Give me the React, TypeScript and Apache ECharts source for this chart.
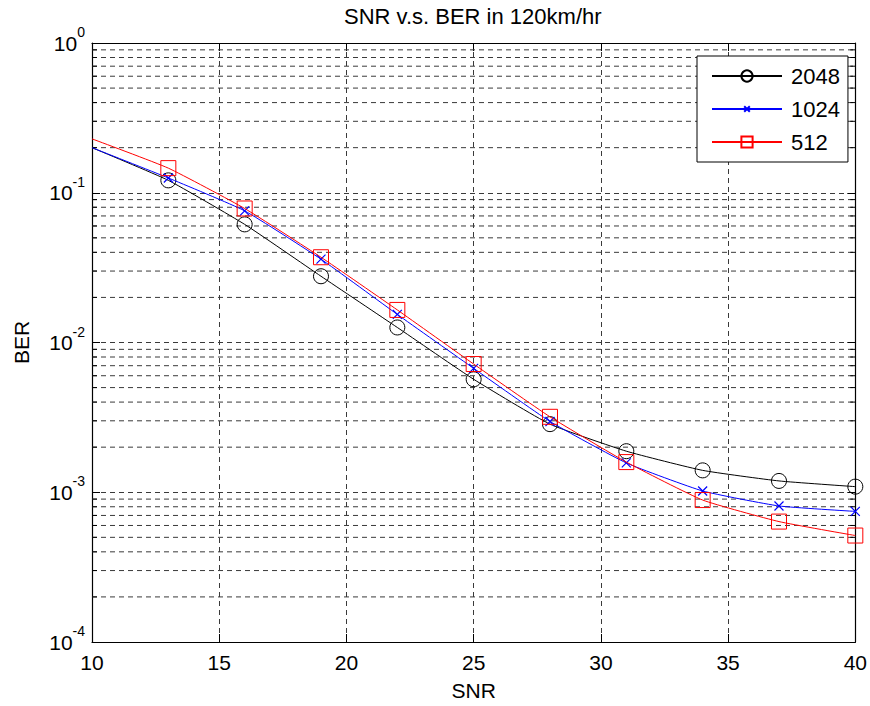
import React, { useEffect, useRef } from "react";
import * as echarts from "echarts";

// SNR sample points (dB) and measured bit error rates for each FFT size
const snr = [10, 13, 16, 19, 22, 25, 28, 31, 34, 37, 40];
const ber2048 = [0.2, 0.121, 0.0615, 0.0277, 0.0126, 0.00568, 0.00285, 0.00188, 0.0014, 0.00119, 0.00109];
const ber1024 = [0.2, 0.1255, 0.0757, 0.036, 0.0154, 0.00672, 0.00297, 0.00157, 0.00102, 0.00081, 0.000745];
const ber512 = [0.229, 0.146, 0.0785, 0.0371, 0.0165, 0.00718, 0.00319, 0.00159, 0.000887, 0.000637, 0.000514];

const seriesNames = ["2048", "1024", "512"];

// x axis ticks and the log-axis minor grid values (2..9 in each decade)
const xTicks = [10, 15, 20, 25, 30, 35, 40];
const decades = [-4, -3, -2, -1];
const minorMultipliers = [2, 3, 4, 5, 6, 7, 8, 9];

const FONT = "'Liberation Sans', Arial, Helvetica, sans-serif";

// cross marker with empty margin so it stays small next to circles/squares
const CROSS = "path://M-5,-5M0,0L10,10M10,0L0,10M15,15";

function pairs(ys: number[]) {
  return snr.map((x, i) =>
    i === 0 ? { value: [x, ys[i]], symbol: "none" } : { value: [x, ys[i]] }
  );
}

export default function App() {
  const ref = useRef<HTMLDivElement>(null);

  useEffect(() => {
    if (!ref.current) return;
    const chart = echarts.init(ref.current, null, { renderer: "svg" });

    const minorValues: number[] = [];
    decades.forEach((d) =>
      minorMultipliers.forEach((m) => minorValues.push(m * Math.pow(10, d)))
    );

    const dash = [5, 4];
    const gridColor = "#3a3a3a";

    const option: any = {
      animation: false,
      backgroundColor: "#fff",
      textStyle: { fontFamily: FONT },
      title: {
        text: "SNR v.s. BER in 120km/hr",
        left: 339,
        top: 0,
        textStyle: { fontFamily: FONT, fontSize: 22, fontWeight: "normal", color: "#000" },
      },
      legend: {
        data: seriesNames,
        orient: "vertical",
        left: 697,
        top: 56,
        padding: [9, 8, 9, 14],
        itemWidth: 70,
        itemHeight: 14,
        itemGap: 11,
        backgroundColor: "#fff",
        borderColor: "#000",
        borderWidth: 1,
        borderRadius: 0,
        textStyle: { fontFamily: FONT, fontSize: 22, color: "#000", padding: [0, 0, 0, 4] },
      },
      grid: { left: 92, right: 12, top: 43, bottom: 61 },
      xAxis: [
        {
          type: "value",
          min: 10,
          max: 40,
          interval: 5,
          name: "SNR",
          nameLocation: "middle",
          nameGap: 38,
          nameTextStyle: { fontFamily: FONT, fontSize: 21, color: "#000" },
          axisLine: { show: true, lineStyle: { color: "#000", width: 1.2 } },
          axisTick: { show: true, inside: true, length: 8, lineStyle: { color: "#000" } },
          axisLabel: {
            fontFamily: FONT,
            fontSize: 21,
            color: "#000",
            margin: 10,
            customValues: xTicks,
          },
          splitLine: { show: true, lineStyle: { color: gridColor, type: dash, width: 1 } },
        },
        {
          type: "value",
          position: "top",
          min: 10,
          max: 40,
          interval: 5,
          axisLine: { show: true, lineStyle: { color: "#000", width: 1.2 } },
          axisTick: { show: true, inside: true, length: 8, lineStyle: { color: "#000" } },
          axisLabel: { show: false },
          splitLine: { show: false },
        },
      ],
      yAxis: [
        {
          type: "log",
          logBase: 10,
          min: 1e-4,
          max: 1,
          name: "BER",
          nameLocation: "middle",
          nameGap: 60,
          nameTextStyle: { fontFamily: FONT, fontSize: 21, color: "#000" },
          axisLine: { show: true, lineStyle: { color: "#000", width: 1.2 } },
          axisTick: { show: true, inside: true, length: 8, lineStyle: { color: "#000" } },
          axisLabel: {
            margin: 7,
            formatter: (v: number) => {
              const e = Math.round(Math.log10(v));
              return `{b|10}{s|${e}}`;
            },
            rich: {
              b: { fontFamily: FONT, fontSize: 21, color: "#000", lineHeight: 36 },
              s: { fontFamily: FONT, fontSize: 14, color: "#000", verticalAlign: "top", lineHeight: 15 },
            },
          },
          splitLine: { show: true, lineStyle: { color: gridColor, type: dash, width: 1 } },
        },
        {
          type: "log",
          logBase: 10,
          position: "right",
          min: 1e-4,
          max: 1,
          axisLine: { show: true, lineStyle: { color: "#000", width: 1.2 } },
          axisTick: { show: true, inside: true, length: 8, lineStyle: { color: "#000" } },
          axisLabel: { show: false },
          splitLine: { show: false },
        },
      ],
      series: [
        {
          // minor log grid lines with inward ticks on both sides
          type: "custom",
          silent: true,
          z: 1,
          xAxisIndex: 0,
          yAxisIndex: 0,
          data: minorValues.map((v) => [10, v]),
          renderItem: (params: any, api: any) => {
            const v = api.value(1);
            const p0 = api.coord([10, v]);
            const p1 = api.coord([40, v]);
            return {
              type: "group",
              children: [
                {
                  type: "line",
                  shape: { x1: p0[0], y1: p0[1], x2: p1[0], y2: p1[1] },
                  style: { stroke: gridColor, lineWidth: 1, lineDash: dash },
                },
                {
                  type: "line",
                  shape: { x1: p0[0], y1: p0[1], x2: p0[0] + 5, y2: p0[1] },
                  style: { stroke: "#000", lineWidth: 1 },
                },
                {
                  type: "line",
                  shape: { x1: p1[0] - 5, y1: p1[1], x2: p1[0], y2: p1[1] },
                  style: { stroke: "#000", lineWidth: 1 },
                },
              ],
            };
          },
        },
        {
          name: "2048",
          type: "line",
          z: 3,
          data: pairs(ber2048),
          smooth: 0.15,
          symbol: "circle",
          symbolSize: 15,
          lineStyle: { color: "#000", width: 1 },
          itemStyle: { color: "transparent", borderColor: "#000", borderWidth: 1 },
        },
        {
          name: "1024",
          type: "line",
          z: 4,
          data: pairs(ber1024),
          smooth: 0.15,
          symbol: CROSS,
          symbolSize: 18,
          lineStyle: { color: "#0000ff", width: 1 },
          itemStyle: { color: "#0000ff", borderColor: "#0000ff", borderWidth: 1.2 },
        },
        {
          name: "512",
          type: "line",
          z: 5,
          data: pairs(ber512),
          smooth: 0.15,
          symbol: "rect",
          symbolSize: 15,
          lineStyle: { color: "#ff0000", width: 1 },
          itemStyle: { color: "transparent", borderColor: "#ff0000", borderWidth: 1 },
        },
      ],
    };

    chart.setOption(option);
    return () => chart.dispose();
  }, []);

  return (
    <div
      ref={ref}
      style={{ position: "fixed", left: 0, top: 0, width: 870, height: 706 }}
    />
  );
}
